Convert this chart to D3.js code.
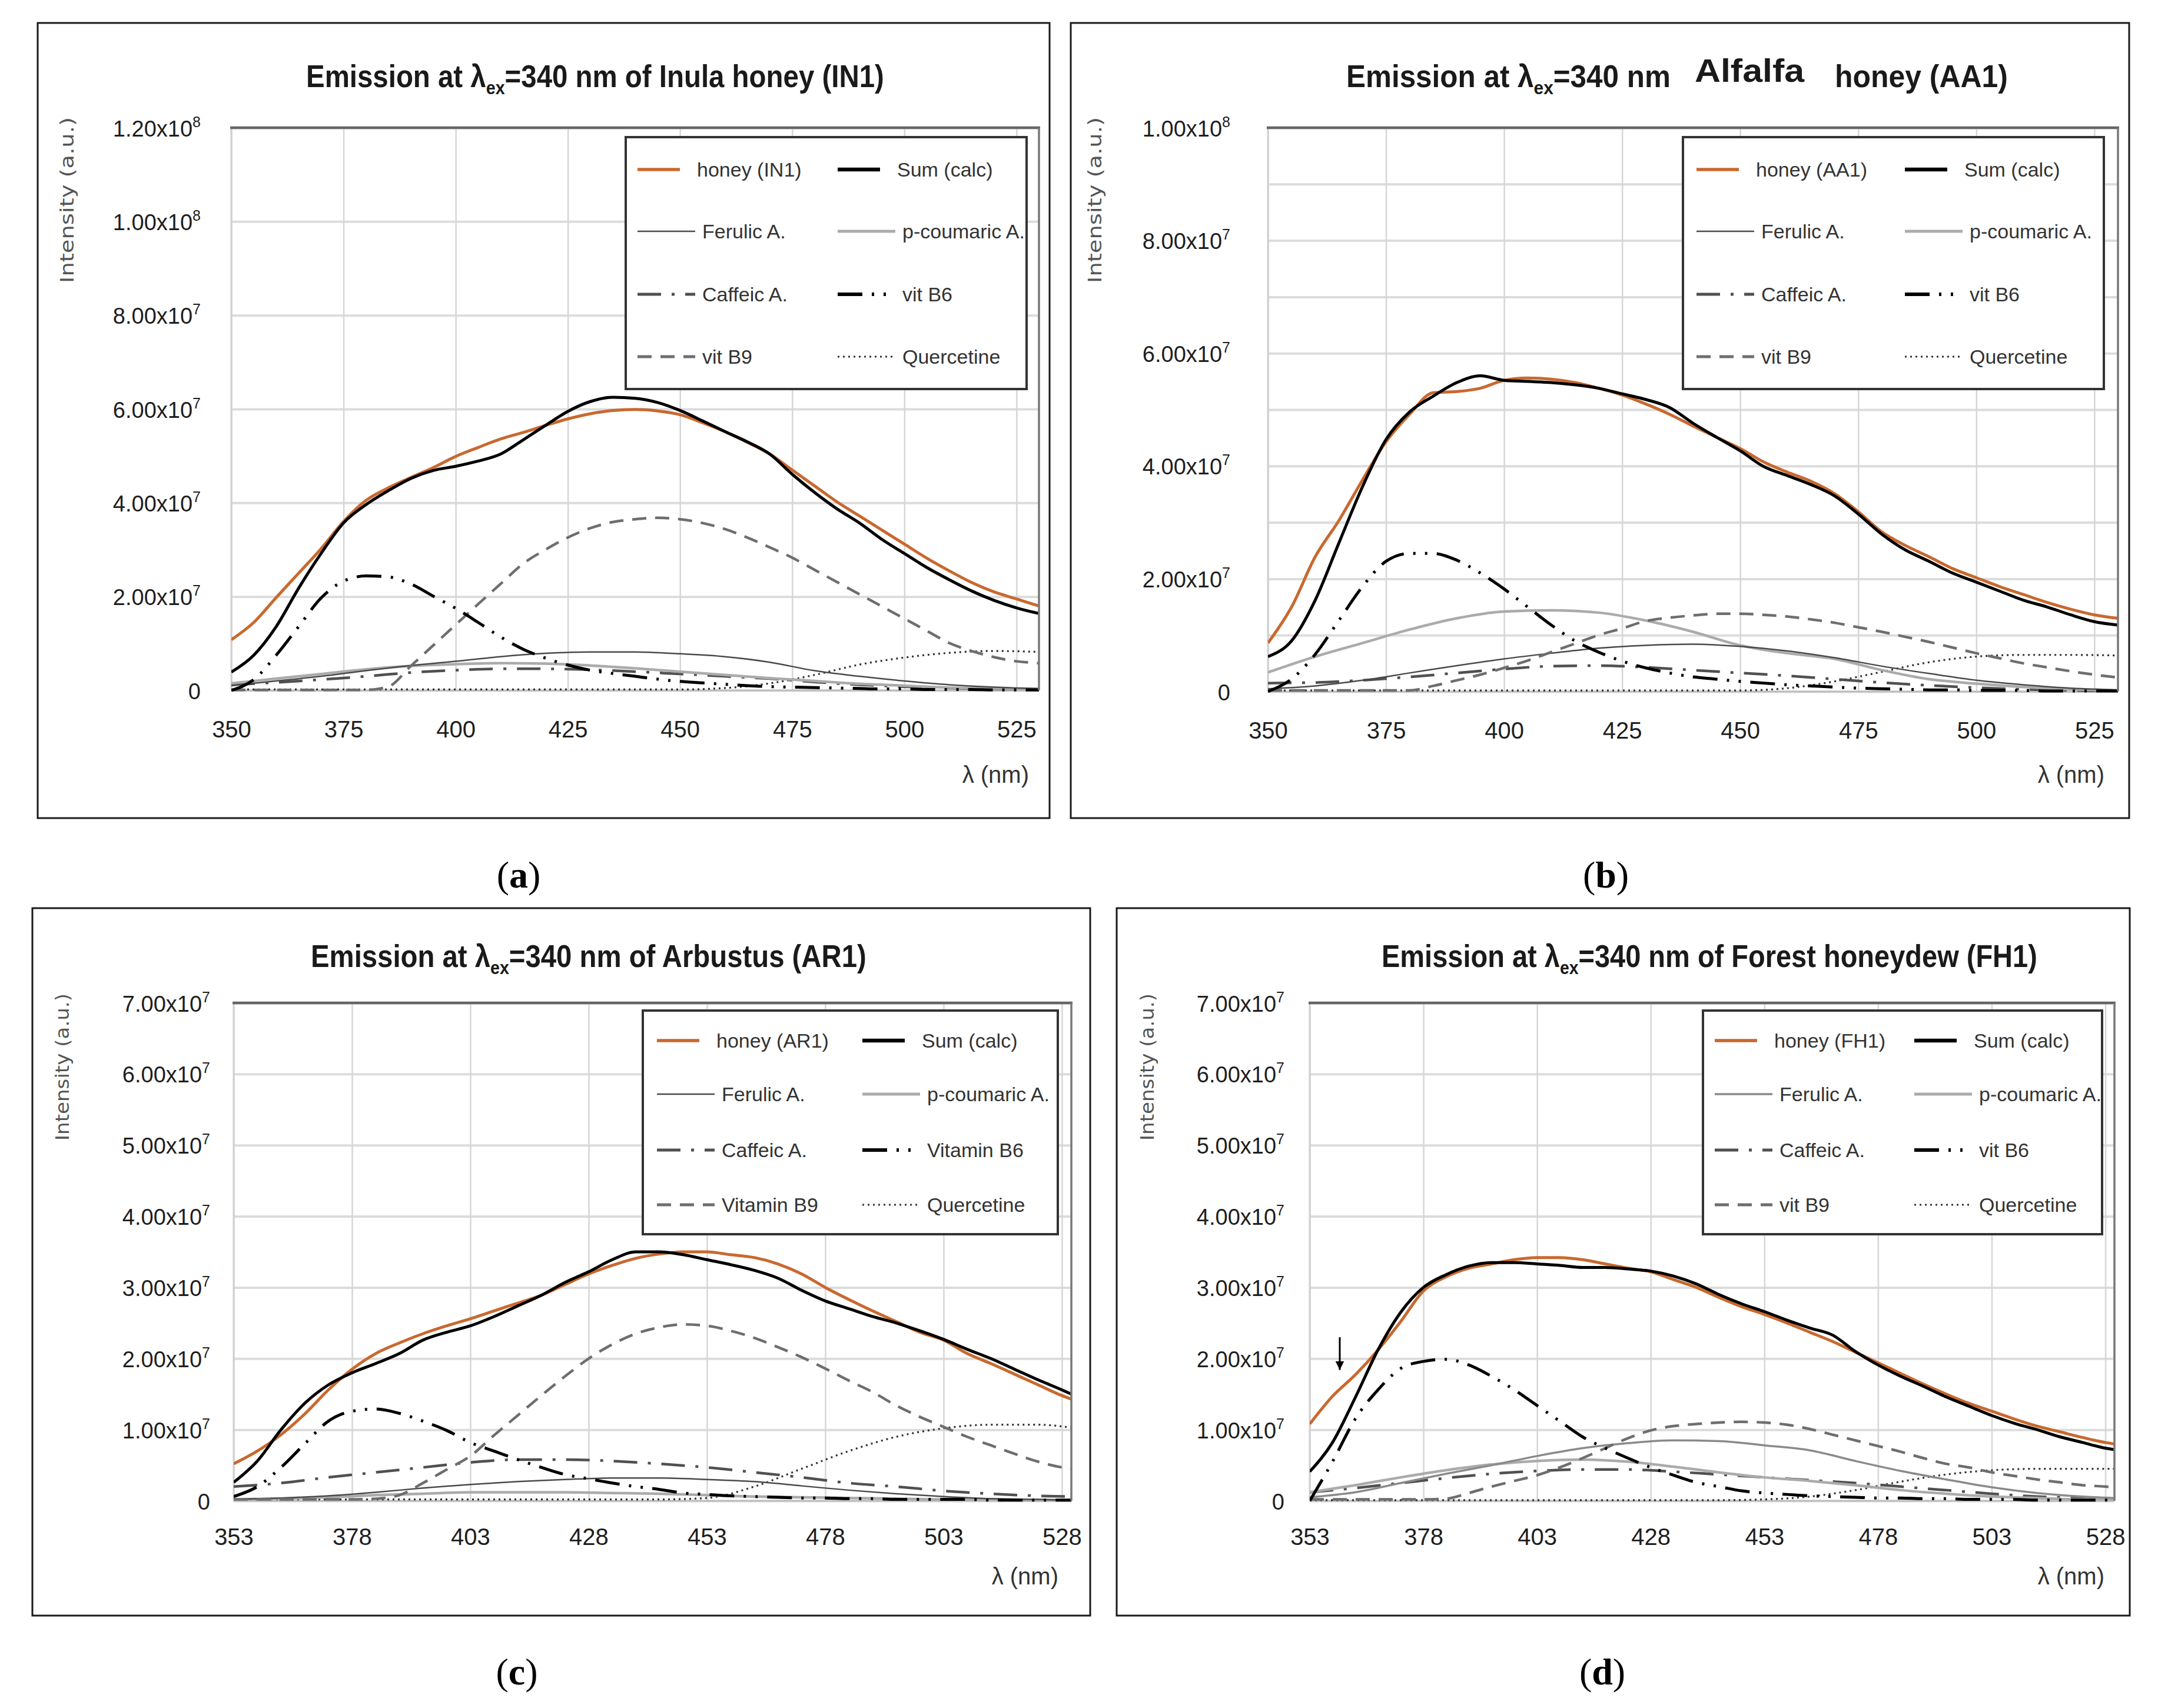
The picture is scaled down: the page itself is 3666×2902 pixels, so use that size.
<!DOCTYPE html>
<html><head><meta charset="utf-8">
<script src="https://cdn.jsdelivr.net/npm/d3@7"></script>
<style>body{margin:0;background:#fff}svg{display:block}</style>
</head><body>
<svg id="fig" width="3666" height="2902"></svg>
<script>
// ---------------- DATA (intensities in units of 1e7 a.u.) ----------------
const UNIT = 1e7;
const wlAB   = [350,355,360,365,370,375,380,385,390,395,400,405,410,415,420,425,430,435,440,445,450,455,460,465,470,475,480,485,490,495,500,505,510,515,520,525,530];
const wlAB10 = [350,360,370,380,390,400,410,420,430,440,450,460,470,480,490,500,510,520,530];
const wlCD   = [353,358,363,368,373,378,383,388,393,398,403,408,413,418,423,428,433,438,443,448,453,458,463,468,473,478,483,488,493,498,503,508,513,518,523,528,530];
const wlCD10 = [353,363,373,383,393,403,413,423,433,443,453,463,473,483,493,503,513,523,530];

const xTicksAB = [350,375,400,425,450,475,500,525];
const xTicksCD = [353,378,403,428,453,478,503,528];
const yTicksA  = [0,2e7,4e7,6e7,8e7,1e8,1.2e8];
const yTicksB  = [0,2e7,4e7,6e7,8e7,1e8];
const yGridB   = [0,1e7,2e7,3e7,4e7,5e7,6e7,7e7,8e7,9e7,1e8];
const yTicksCD = [0,1e7,2e7,3e7,4e7,5e7,6e7,7e7];

// (a) Inula honey IN1
const honeyA = [1.08,1.45,1.98,2.50,3.02,3.60,4.05,4.32,4.54,4.75,4.99,5.18,5.36,5.50,5.65,5.79,5.90,5.97,5.99,5.96,5.88,5.71,5.52,5.29,5.04,4.70,4.36,4.02,3.72,3.42,3.12,2.82,2.55,2.30,2.10,1.95,1.80];
const sumA   = [0.39,0.75,1.36,2.18,2.92,3.57,3.96,4.26,4.52,4.69,4.78,4.89,5.04,5.34,5.65,5.95,6.16,6.25,6.23,6.14,5.97,5.75,5.52,5.30,5.04,4.61,4.22,3.87,3.57,3.22,2.92,2.62,2.36,2.12,1.92,1.76,1.64];
const vitB6A = [0,0.23,0.75,1.36,1.97,2.33,2.44,2.42,2.27,2.01,1.75,1.45,1.14,0.88,0.69,0.54,0.43,0.36,0.30,0.24,0.19,0.16,0.13,0.10,0.08,0.07,0.06,0.05,0.04,0.03,0.03,0.02,0.02,0.02,0.01,0.01,0.01];
const vitB9A = [0.01,0.01,0.01,0.01,0.01,0.01,0.01,0.08,0.52,0.96,1.40,1.84,2.27,2.70,3.00,3.26,3.46,3.59,3.65,3.68,3.65,3.57,3.44,3.26,3.05,2.83,2.57,2.31,2.05,1.79,1.53,1.27,1.01,0.84,0.71,0.62,0.58];
const ferulicA    = [0.10,0.20,0.30,0.42,0.53,0.62,0.72,0.79,0.82,0.82,0.78,0.72,0.60,0.42,0.30,0.20,0.12,0.07,0.04];
const coumaricA   = [0.15,0.25,0.35,0.45,0.52,0.56,0.58,0.57,0.53,0.47,0.40,0.33,0.26,0.20,0.14,0.10,0.06,0.04,0.02];
const caffeicA    = [0.12,0.17,0.23,0.30,0.38,0.43,0.46,0.46,0.44,0.40,0.35,0.30,0.25,0.18,0.12,0.08,0.05,0.03,0.02];
const quercetineA = [0.02,0.02,0.02,0.02,0.02,0.02,0.02,0.02,0.02,0.02,0.02,0.05,0.15,0.33,0.55,0.70,0.80,0.84,0.82];

// (b) Alfalfa honey AA1
const honeyB = [0.86,1.50,2.39,3.03,3.75,4.43,4.92,5.30,5.32,5.38,5.52,5.56,5.54,5.48,5.38,5.26,5.10,4.92,4.71,4.51,4.31,4.07,3.89,3.73,3.51,3.19,2.83,2.59,2.39,2.18,2.02,1.86,1.72,1.58,1.46,1.36,1.30];
const sumB   = [0.62,0.90,1.62,2.63,3.63,4.47,4.96,5.24,5.48,5.60,5.52,5.50,5.48,5.44,5.38,5.28,5.18,5.04,4.76,4.51,4.27,3.99,3.83,3.67,3.47,3.15,2.79,2.51,2.31,2.10,1.94,1.78,1.62,1.50,1.36,1.24,1.18];
const vitB6B = [0,0.22,0.66,1.26,1.86,2.31,2.45,2.45,2.33,2.10,1.82,1.50,1.18,0.90,0.70,0.54,0.42,0.33,0.26,0.22,0.18,0.15,0.12,0.10,0.08,0.06,0.05,0.04,0.03,0.03,0.02,0.02,0.02,0.01,0.01,0.01,0.01];
const vitB9B = [0.02,0.02,0.02,0.02,0.02,0.02,0.02,0.10,0.20,0.30,0.42,0.55,0.70,0.85,1.00,1.12,1.25,1.31,1.35,1.38,1.38,1.36,1.33,1.28,1.22,1.14,1.06,0.97,0.88,0.78,0.68,0.59,0.50,0.43,0.36,0.30,0.25];
const ferulicB    = [0.05,0.10,0.20,0.33,0.46,0.58,0.68,0.77,0.82,0.84,0.80,0.72,0.60,0.45,0.32,0.20,0.12,0.06,0.03];
const coumaricB   = [0.34,0.62,0.86,1.10,1.30,1.42,1.44,1.40,1.26,1.06,0.82,0.68,0.58,0.38,0.22,0.14,0.08,0.04,0.02];
const caffeicB    = [0.15,0.16,0.20,0.26,0.33,0.40,0.45,0.46,0.43,0.38,0.33,0.28,0.22,0.16,0.11,0.07,0.04,0.02,0.01];
const quercetineB = [0.02,0.02,0.02,0.02,0.02,0.02,0.02,0.02,0.02,0.02,0.02,0.06,0.18,0.35,0.52,0.62,0.65,0.65,0.64];

// (c) Arbustus AR1
const honeyC = [0.52,0.70,0.93,1.22,1.56,1.85,2.07,2.22,2.35,2.46,2.56,2.67,2.78,2.89,3.04,3.19,3.31,3.41,3.47,3.50,3.50,3.46,3.42,3.33,3.19,3.00,2.83,2.67,2.52,2.37,2.26,2.07,1.93,1.78,1.63,1.48,1.43];
const sumC   = [0.26,0.56,1.00,1.37,1.63,1.80,1.93,2.07,2.26,2.37,2.46,2.59,2.74,2.89,3.07,3.22,3.39,3.50,3.50,3.46,3.39,3.32,3.24,3.13,2.96,2.81,2.70,2.59,2.50,2.39,2.27,2.13,2.00,1.85,1.70,1.56,1.50];
const vitB6C = [0.06,0.20,0.47,0.80,1.12,1.26,1.29,1.23,1.12,0.99,0.82,0.70,0.58,0.47,0.37,0.31,0.25,0.20,0.16,0.11,0.09,0.07,0.06,0.05,0.04,0.04,0.03,0.03,0.02,0.02,0.02,0.02,0.01,0.01,0.01,0.01,0.01];
const vitB9C = [0.02,0.02,0.02,0.02,0.02,0.02,0.03,0.08,0.25,0.44,0.63,0.92,1.20,1.48,1.75,2.00,2.20,2.35,2.44,2.48,2.46,2.39,2.29,2.16,2.02,1.86,1.69,1.53,1.34,1.18,1.04,0.90,0.78,0.66,0.55,0.47,0.45];
const ferulicC    = [0.02,0.04,0.07,0.12,0.18,0.23,0.27,0.30,0.32,0.32,0.30,0.27,0.21,0.15,0.10,0.06,0.03,0.02,0.01];
const coumaricC   = [0.02,0.03,0.05,0.08,0.10,0.12,0.12,0.12,0.11,0.10,0.08,0.06,0.05,0.04,0.03,0.02,0.02,0.01,0.01];
const caffeicC    = [0.20,0.25,0.33,0.40,0.47,0.54,0.58,0.58,0.56,0.52,0.47,0.40,0.33,0.25,0.20,0.14,0.10,0.07,0.06];
const quercetineC = [0.02,0.02,0.02,0.02,0.02,0.02,0.02,0.02,0.02,0.02,0.04,0.20,0.45,0.70,0.90,1.02,1.07,1.07,1.03];

// (d) Forest honeydew FH1
const honeyD = [1.08,1.47,1.77,2.12,2.52,2.95,3.15,3.27,3.33,3.39,3.42,3.42,3.39,3.33,3.27,3.22,3.11,3.00,2.86,2.73,2.62,2.50,2.37,2.24,2.09,1.94,1.79,1.64,1.50,1.37,1.26,1.15,1.05,0.97,0.89,0.82,0.80];
const sumD   = [0.41,0.82,1.45,2.12,2.65,3.00,3.18,3.30,3.35,3.35,3.33,3.31,3.28,3.28,3.26,3.23,3.16,3.05,2.90,2.77,2.66,2.54,2.43,2.33,2.10,1.91,1.75,1.61,1.46,1.33,1.20,1.09,1.00,0.90,0.82,0.74,0.72];
const vitB6D = [0.00,0.55,1.15,1.56,1.86,1.96,1.99,1.91,1.75,1.56,1.34,1.12,0.90,0.74,0.60,0.47,0.36,0.26,0.20,0.14,0.11,0.09,0.07,0.06,0.05,0.04,0.04,0.03,0.03,0.02,0.02,0.02,0.01,0.01,0.01,0.01,0.01];
const vitB9D = [0.02,0.02,0.02,0.02,0.02,0.02,0.03,0.11,0.20,0.28,0.36,0.47,0.60,0.74,0.88,0.99,1.05,1.08,1.10,1.11,1.10,1.07,1.01,0.93,0.85,0.77,0.69,0.60,0.52,0.47,0.40,0.35,0.30,0.26,0.22,0.20,0.19];
const ferulicD    = [0.05,0.12,0.25,0.38,0.50,0.63,0.74,0.81,0.85,0.84,0.78,0.71,0.56,0.42,0.30,0.19,0.11,0.06,0.04];
const coumaricD   = [0.12,0.22,0.33,0.43,0.51,0.56,0.58,0.55,0.48,0.40,0.33,0.28,0.22,0.15,0.10,0.06,0.04,0.02,0.02];
const caffeicD    = [0.12,0.18,0.25,0.32,0.38,0.42,0.44,0.44,0.41,0.37,0.33,0.29,0.25,0.20,0.15,0.10,0.06,0.04,0.03];
const quercetineD = [0.01,0.01,0.01,0.01,0.01,0.01,0.01,0.01,0.01,0.01,0.02,0.06,0.15,0.27,0.37,0.43,0.45,0.45,0.45];

const legendA = ["honey (IN1)","Sum (calc)","Ferulic A.","p-coumaric A.","Caffeic A.","vit B6","vit B9","Quercetine"];
const legendB = ["honey (AA1)","Sum (calc)","Ferulic A.","p-coumaric A.","Caffeic A.","vit B6","vit B9","Quercetine"];
const legendC = ["honey (AR1)","Sum (calc)","Ferulic A.","p-coumaric A.","Caffeic A.","Vitamin B6","Vitamin B9","Quercetine"];
const legendD = ["honey (FH1)","Sum (calc)","Ferulic A.","p-coumaric A.","Caffeic A.","vit B6","vit B9","Quercetine"];
const arrowD = {wl: 359.6, from: 2.30e7, to: 1.84e7};

// ---------------- STYLE / LAYOUT ----------------
const SANS = "'Liberation Sans', Arial, sans-serif";
const NARROW = "'Liberation Sans Narrow', 'Liberation Sans', Arial, sans-serif";
const keys = ["honey","sum","ferulic","coumaric","caffeic","vitB6","vitB9","quercetine"];
const fine = new Set(["honey","sum","vitB6","vitB9"]);
const drawOrder = ["quercetine","caffeic","coumaric","ferulic","vitB9","vitB6","honey","sum"];
const baseStyle = {
  honey:{stroke:"#c8692f", w:5, dash:null, lw:5.5},
  sum:{stroke:"#000", w:5, dash:null, lw:6.5},
  ferulic:{stroke:"#4a4a4a", w:2.5, dash:null, lw:2.5},
  coumaric:{stroke:"#ababab", w:4.5, dash:null, lw:5},
  caffeic:{stroke:"#505050", w:4.5, dash:"40,18,5,18", lw:5},
  vitB6:{stroke:"#000", w:5, dash:"42,16,4,16,4,16", lw:6},
  vitB9:{stroke:"#6e6e6e", w:4.5, dash:"24,15", lw:5},
  quercetine:{stroke:"#333", w:3.2, dash:"3,6", lw:3.2}
};

const panels = [
 {id:"a", wl:wlAB, wl10:wlAB10, xDom:[350,530], yMax:1.2e8, xTicks:xTicksAB, yTicks:yTicksA, yGrid:yTicksA,
  s:{honey:honeyA,sum:sumA,vitB6:vitB6A,vitB9:vitB9A,ferulic:ferulicA,coumaric:coumaricA,caffeic:caffeicA,quercetine:quercetineA},
  labels:legendA,
  L:{frame:[64,39,1719,1351], plot:{l:393,t:217,r:1765,b:1173}, yPad:52, xLab:80,
     yTitle:{cx:113,cy:340,len:282}, xTitle:{x:1748,y:1330},
     legend:{x:1063,y:233,w:681,h:428,c1:20,c2:360,rows:[55,160,267,373]},
     title:[{x:520,y:148,w:982,lam:true,rest:"=340 nm of Inula honey (IN1)"}],
     label:{x:881,y:1508}}},
 {id:"b", wl:wlAB, wl10:wlAB10, xDom:[350,530], yMax:1e8, xTicks:xTicksAB, yTicks:yTicksB, yGrid:yGridB,
  s:{honey:honeyB,sum:sumB,vitB6:vitB6B,vitB9:vitB9B,ferulic:ferulicB,coumaric:coumaricB,caffeic:caffeicB,quercetine:quercetineB},
  labels:legendB,
  L:{frame:[1819,39,1798,1351], plot:{l:2154,t:217,r:3598,b:1175}, yPad:64, xLab:80,
     yTitle:{cx:1859,cy:340,len:282}, xTitle:{x:3575,y:1330},
     legend:{x:2859,y:233,w:715,h:428,c1:23,c2:377,rows:[55,160,267,373]},
     title:[{x:2287,y:148,w:551,lam:true,rest:"=340 nm"},
            {x:2879,y:139,w:187,plain:"Alfalfa",size:56,font:SANS},
            {x:3117,y:148,w:294,plain:"honey (AA1)"}],
     label:{x:2728,y:1508}}},
 {id:"c", wl:wlCD, wl10:wlCD10, xDom:[353,530], yMax:7e7, xTicks:xTicksCD, yTicks:yTicksCD, yGrid:yTicksCD,
  s:{honey:honeyC,sum:sumC,vitB6:vitB6C,vitB9:vitB9C,ferulic:ferulicC,coumaric:coumaricC,caffeic:caffeicC,quercetine:quercetineC},
  labels:legendC,
  L:{frame:[55,1543,1797,1202], plot:{l:397,t:1704,r:1820,b:2550}, yPad:40, xLab:75,
     yTitle:{cx:105,cy:1813,len:250}, xTitle:{x:1798,y:2692},
     legend:{x:1092,y:1717,w:705,h:380,c1:24,c2:373,rows:[51,142,237,330]},
     title:[{x:528,y:1643,w:944,lam:true,rest:"=340 nm of Arbustus (AR1)"}],
     label:{x:878,y:2862}}},
 {id:"d", wl:wlCD, wl10:wlCD10, xDom:[353,530], yMax:7e7, xTicks:xTicksCD, yTicks:yTicksCD, yGrid:yTicksCD,
  s:{honey:honeyD,sum:sumD,vitB6:vitB6D,vitB9:vitB9D,ferulic:ferulicD,coumaric:coumaricD,caffeic:caffeicD,quercetine:quercetineD},
  labels:legendD, arrow:arrowD, ferulicStroke:"#8a8a8a",
  L:{frame:[1897,1543,1721,1202], plot:{l:2225,t:1704,r:3592,b:2550}, yPad:43, xLab:75,
     yTitle:{cx:1948,cy:1813,len:250}, xTitle:{x:3575,y:2692},
     legend:{x:2893,y:1717,w:678,h:380,c1:20,c2:359,rows:[51,142,237,330]},
     title:[{x:2347,y:1643,w:1114,lam:true,rest:"=340 nm of Forest honeydew (FH1)"}],
     label:{x:2722,y:2862}}}
];

const svg = d3.select("#fig");
svg.append("rect").attr("width",3666).attr("height",2902).attr("fill","#fff");
const defs = svg.append("defs");
defs.append("marker").attr("id","arrowhead").attr("viewBox","0 0 10 10").attr("refX",10).attr("refY",5)
  .attr("markerWidth",5).attr("markerHeight",5).attr("orient","auto")
  .append("path").attr("d","M0,0 L10,5 L0,10 Z").attr("fill","#000");

function fitH(sel, x, y, w, rot) {
  const bw = sel.node().getBBox().width;
  const s = w / bw;
  sel.attr("transform", `translate(${x},${y})` + (rot ? " rotate(-90)" : "") + ` scale(${s},1)`);
}

function styleFor(p, k) {
  const st = Object.assign({}, baseStyle[k]);
  if (k === "ferulic" && p.ferulicStroke) { st.stroke = p.ferulicStroke; st.w = 3.5; st.lw = 3.5; }
  return st;
}

panels.forEach(p => {
  const L = p.L, P = L.plot;
  const g = svg.append("g");
  // frame
  g.append("rect").attr("x",L.frame[0]).attr("y",L.frame[1]).attr("width",L.frame[2]).attr("height",L.frame[3])
    .attr("fill","#fff").attr("stroke","#1a1a1a").attr("stroke-width",3);

  const x = d3.scaleLinear().domain(p.xDom).range([P.l, P.r]);
  const y = d3.scaleLinear().domain([0, p.yMax]).range([P.b, P.t]);
  const W = P.r - P.l, H = P.b - P.t;

  // gridlines
  g.append("g").attr("transform",`translate(${P.l},0)`)
    .call(d3.axisLeft(y).tickValues(p.yGrid).tickSize(-W).tickFormat(""))
    .call(a => { a.select(".domain").remove(); a.selectAll("line").attr("stroke","#dcdcdc").attr("stroke-width",4); });
  g.append("g").attr("transform",`translate(0,${P.b})`)
    .call(d3.axisBottom(x).tickValues(p.xTicks).tickSize(-H).tickFormat(""))
    .call(a => { a.select(".domain").remove(); a.selectAll("line").attr("stroke","#d6d6d6").attr("stroke-width",2.5); });
  // left & bottom light borders
  g.append("line").attr("x1",P.l).attr("x2",P.l).attr("y1",P.t).attr("y2",P.b).attr("stroke","#cfcfcf").attr("stroke-width",3);
  g.append("line").attr("x1",P.l).attr("x2",P.r).attr("y1",P.b).attr("y2",P.b).attr("stroke","#bdbdbd").attr("stroke-width",3);

  // series
  const clipId = "clip-" + p.id;
  defs.append("clipPath").attr("id", clipId).append("rect").attr("x",P.l).attr("y",P.t-4).attr("width",W).attr("height",H+8);
  const lineGen = d3.line().x(d => x(d[0])).y(d => y(d[1] * UNIT)).curve(d3.curveMonotoneX);
  const sg = g.append("g").attr("clip-path", `url(#${clipId})`);
  drawOrder.forEach(k => {
    const xs = fine.has(k) ? p.wl : p.wl10;
    const pts = xs.map((w, i) => [w, p.s[k][i]]);
    const st = styleFor(p, k);
    sg.append("path").datum(pts).attr("d", lineGen).attr("fill","none")
      .attr("stroke", st.stroke).attr("stroke-width", st.w)
      .attr("stroke-dasharray", st.dash).attr("stroke-linejoin","round");
  });

  // plot top & right borders
  g.append("line").attr("x1",P.l-2).attr("x2",P.r+2).attr("y1",P.t).attr("y2",P.t).attr("stroke","#666").attr("stroke-width",4.5);
  g.append("line").attr("x1",P.r).attr("x2",P.r).attr("y1",P.t).attr("y2",P.b).attr("stroke","#777").attr("stroke-width",3.5);

  // y axis labels
  g.append("g").attr("transform",`translate(${P.l},0)`)
    .call(d3.axisLeft(y).tickValues(p.yTicks).tickSize(0).tickPadding(L.yPad))
    .call(a => {
      a.select(".domain").remove();
      a.selectAll("text").attr("font-family", SANS).attr("font-size", 38).attr("fill","#1e1e1e").attr("dy","0.37em")
        .each(function(d) {
          const t = d3.select(this); t.text(null);
          if (d === 0) { t.text("0"); return; }
          const e = Math.floor(Math.log10(d) + 1e-9);
          const m = d / Math.pow(10, e);
          t.append("tspan").text(m.toFixed(2) + "x10");
          t.append("tspan").attr("dy", -16).attr("font-size", 25).text(e);
        });
    });
  // x axis labels
  g.append("g").attr("transform",`translate(0,${P.b})`)
    .call(d3.axisBottom(x).tickValues(p.xTicks).tickSize(0).tickFormat(d3.format("d")))
    .call(a => {
      a.select(".domain").remove();
      a.selectAll("text").attr("font-family", SANS).attr("font-size", 40).attr("fill","#1e1e1e")
        .attr("y", L.xLab).attr("dy", 0);
    });

  // axis titles
  const yt = g.append("text").attr("font-family","'DejaVu Sans', Verdana, sans-serif").attr("font-size",32)
    .attr("fill","#555").attr("text-anchor","middle").attr("dy","0.36em").text("Intensity (a.u.)");
  fitH(yt, L.yTitle.cx, L.yTitle.cy, L.yTitle.len, true);
  g.append("text").attr("x",L.xTitle.x).attr("y",L.xTitle.y).attr("text-anchor","end")
    .attr("font-family",SANS).attr("font-size",40).attr("fill","#333").text("λ (nm)");

  // title
  L.title.forEach(tp => {
    const t = g.append("text").attr("font-family", tp.font || NARROW).attr("font-weight","bold")
      .attr("font-size", tp.size || 53).attr("fill","#1a1a1a");
    if (tp.lam) {
      t.append("tspan").text("Emission at λ");
      t.append("tspan").attr("font-size",32).attr("dy",12).text("ex");
      t.append("tspan").attr("dy",-12).text(tp.rest);
    } else {
      t.text(tp.plain);
    }
    fitH(t, tp.x, tp.y, tp.w, false);
  });

  // legend
  const LG = L.legend;
  const lg = g.append("g");
  lg.append("rect").attr("x",LG.x).attr("y",LG.y).attr("width",LG.w).attr("height",LG.h)
    .attr("fill","#fff").attr("stroke","#333").attr("stroke-width",4);
  keys.forEach((k, i) => {
    const row = Math.floor(i / 2), col = i % 2;
    const x0 = LG.x + (col === 0 ? LG.c1 : LG.c2);
    const yy = LG.y + LG.rows[row];
    const len = row === 0 ? 72 : 98;
    const toff = row === 0 ? 101 : 110;
    const st = styleFor(p, k);
    lg.append("line").attr("x1",x0).attr("x2",x0+len).attr("y1",yy).attr("y2",yy)
      .attr("stroke",st.stroke).attr("stroke-width",st.lw).attr("stroke-dasharray",st.dash);
    lg.append("text").attr("x",x0+toff).attr("y",yy+12).attr("font-family",SANS).attr("font-size",34)
      .attr("fill","#333").text(p.labels[i]);
  });

  // annotation arrow (d)
  if (p.arrow) {
    g.append("line").attr("x1",x(p.arrow.wl)).attr("x2",x(p.arrow.wl))
      .attr("y1",y(p.arrow.from)).attr("y2",y(p.arrow.to))
      .attr("stroke","#000").attr("stroke-width",3).attr("marker-end","url(#arrowhead)");
  }

  // panel label
  const lb = svg.append("text").attr("x",L.label.x).attr("y",L.label.y).attr("text-anchor","middle")
    .attr("font-family","'Liberation Serif', 'DejaVu Serif', serif").attr("font-size",64).attr("fill","#000");
  lb.append("tspan").text("(");
  lb.append("tspan").attr("font-weight","bold").text(p.id);
  lb.append("tspan").text(")");
});
</script>
</body></html>
